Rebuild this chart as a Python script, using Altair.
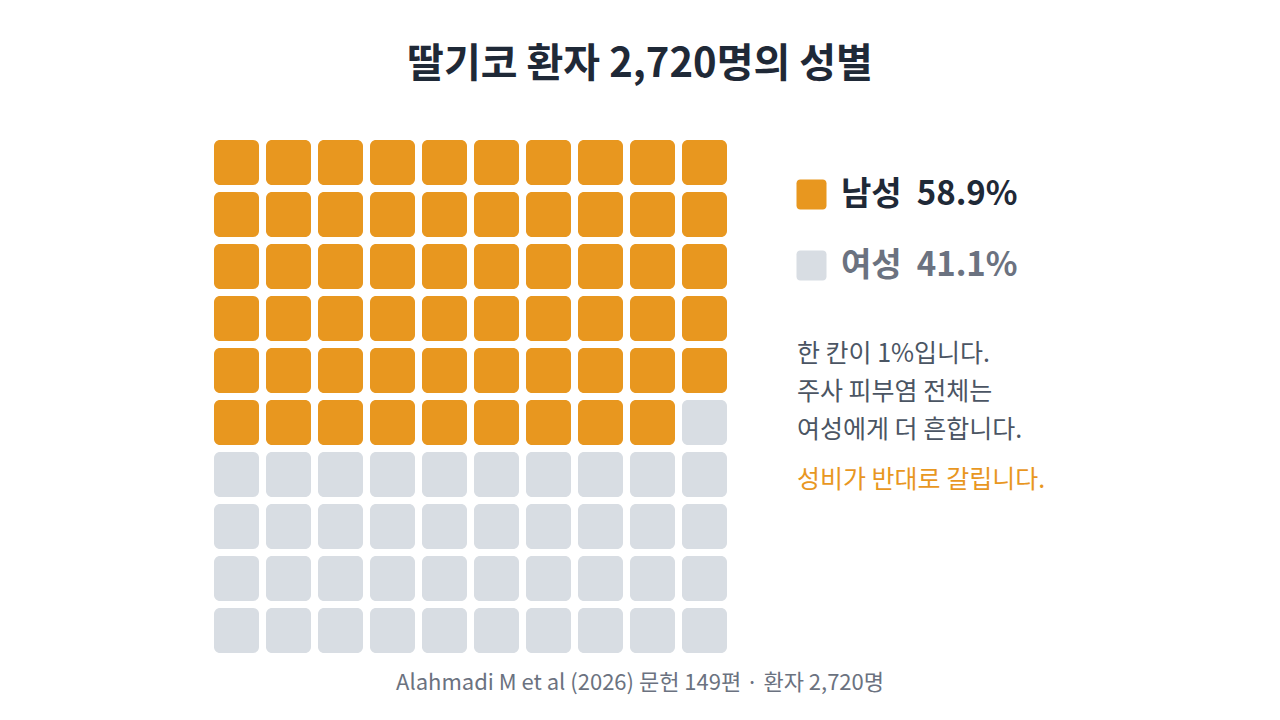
import altair as alt
import pandas as pd

# data
sexes = ["남성", "여성"]
shares = [58.9, 41.1]
patients = 2720
studies = 149
colors = ["#E8971F", "#D8DDE3"]

n_male = round(shares[0])
cells = pd.DataFrame({
    "idx": list(range(100)),
})
cells["row"] = cells["idx"] // 10
cells["col"] = cells["idx"] % 10
cells["sex"] = [sexes[0] if i < n_male else sexes[1] for i in cells["idx"]]

font = "Noto Sans CJK KR"

# rounded square for the legend symbol
rsq = ("M-0.75,-1 L0.75,-1 A0.25,0.25 0 0 1 1,-0.75 L1,0.75 "
       "A0.25,0.25 0 0 1 0.75,1 L-0.75,1 A0.25,0.25 0 0 1 -1,0.75 "
       "L-1,-0.75 A0.25,0.25 0 0 1 -0.75,-1 Z")

label_expr = (f"datum.value === '{sexes[0]}' ? '{sexes[0]}\u00a0\u00a0{shares[0]}%' "
              f": '{sexes[1]}\u00a0\u00a0{shares[1]}%'")

waffle = alt.Chart(cells).mark_rect(cornerRadius=6).encode(
    x=alt.X("col:O", axis=None,
            scale=alt.Scale(range=[202.5, 722.5], paddingInner=7 / 52, paddingOuter=7 / 104)),
    y=alt.Y("row:O", axis=None,
            scale=alt.Scale(range=[128.5, 648.5], paddingInner=7 / 52, paddingOuter=7 / 104)),
    color=alt.Color("sex:N",
                    scale=alt.Scale(domain=sexes, range=colors),
                    legend=alt.Legend(
                        title=None, orient="none", legendX=787, legendY=170,
                        padding=0, symbolType=rsq, symbolSize=900,
                        symbolStrokeWidth=0, symbolOpacity=1,
                        labelFont=font, labelFontSize=33, labelFontWeight="bold",
                        labelOffset=13, rowPadding=37, labelLimit=400,
                        labelExpr=label_expr,
                        labelColor={"expr": f"datum.value === '{sexes[0]}' ? '#1F2937' : '#6B7280'"},
                    )),
)

ann = alt.Chart(pd.DataFrame({"a": [0]}))

title = ann.mark_text(fontSize=40, fontWeight="bold", color="#1F2937", font=font,
                      align="center", baseline="middle").encode(
    x=alt.value(632), y=alt.value(57),
    text=alt.value(f"딸기코 환자 {patients:,}명의 성별"))

body = ann.mark_text(fontSize=25, color="#4B5563", font=font, align="left",
                     baseline="alphabetic", lineHeight=38).encode(
    x=alt.value(789), y=alt.value(354),
    text=alt.value(["한 칸이 1%입니다.", "주사 피부염 전체는", "여성에게 더 흔합니다."]))

accent = ann.mark_text(fontSize=25, color=colors[0], font=font, align="left",
                       baseline="alphabetic").encode(
    x=alt.value(789), y=alt.value(480),
    text=alt.value("성비가 반대로 갈립니다."))

foot = ann.mark_text(fontSize=22, color="#6B7280", font=font, align="center",
                     baseline="middle").encode(
    x=alt.value(632), y=alt.value(675),
    text=alt.value(f"Alahmadi M et al (2026) 문헌 {studies}편 · 환자 {patients:,}명"))

chart = alt.layer(waffle, title, body, accent, foot).properties(
    width=1264, height=704, autosize="none", padding=0
).configure(
    font=font, background="white"
).configure_view(strokeWidth=0)

chart.save("out.html", embed_options={"renderer": "svg", "actions": False})
